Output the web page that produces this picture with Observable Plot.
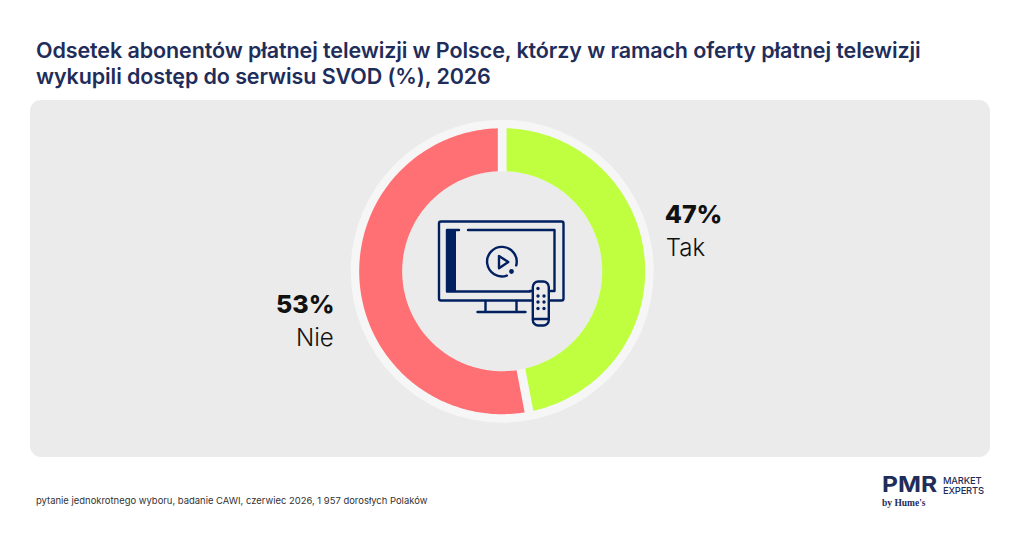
<!DOCTYPE html>
<html lang="pl"><head><meta charset="utf-8">
<script src="https://cdn.jsdelivr.net/npm/d3@7"></script>
<script src="https://cdn.jsdelivr.net/npm/@observablehq/plot@0.6"></script>
<style>
html,body{margin:0;padding:0;background:#fff;width:1024px;height:537px;overflow:hidden;font-family:Inter,sans-serif}
#title{position:absolute;left:36px;top:37px;width:980px;font-size:21.5px;line-height:26px;font-weight:600;color:#1f2d5a;letter-spacing:-.1px;white-space:nowrap}
#panel{position:absolute;left:30px;top:100px;width:960px;height:357px;background:#ebebeb;border-radius:11px;overflow:hidden}
#panel svg{display:block;background:transparent}
#icon{position:absolute;left:430px;top:210px}
#caption{position:absolute;left:36px;top:495px;font-size:9.45px;line-height:12px;color:#333;white-space:nowrap}
#logo{position:absolute;left:882px;top:472px;width:110px;height:40px;color:#1f2d5a}
#logo b{position:absolute;left:0;top:-1px;font-size:22px;line-height:26px;font-weight:700;transform:scaleX(1.12);transform-origin:0 50%}
#logo span{position:absolute;left:61px;top:4px;font-size:9.4px;line-height:10px;font-weight:500;letter-spacing:-.2px}
#logo i{position:absolute;left:0;top:26px;font:700 9.5px/11px "Liberation Serif",serif}
</style></head><body>
<div id="title">Odsetek abonentów płatnej telewizji w Polsce, którzy w ramach oferty płatnej telewizji<br>wykupili dostęp do serwisu SVOD (%), 2026</div>
<div id="panel"></div>
<svg id="icon" width="130" height="125" viewBox="430 210 130 125" style="overflow:visible" fill="none" stroke="#002060" stroke-width="2.4" stroke-linecap="round" stroke-linejoin="round">
<rect x="439" y="221.5" width="124.5" height="79" rx="2"/>
<path d="M447 230H459M468 230H554.5V291H530M447 230V291.5H530"/>
<rect x="447" y="230" width="8.5" height="61.5" fill="#002060" stroke-width="1"/>
<path d="M485.5 301V312M516.5 301V312M477.5 312H525.5"/>
<path d="M516.2 265.4A14.8 14.8 0 1 0 506.8 275.6"/>
<circle cx="511.5" cy="271.5" r="1.2" fill="#002060"/>
<path d="M499 256V268.3L508.3 262Z"/>
<rect x="532.8" y="281.5" width="16" height="44" rx="5.5" fill="#ebebeb"/>
<path d="M533 319H548.5"/>
<g fill="#002060" stroke="none"><circle cx="538" cy="288.5" r="1.7"/><circle cx="538" cy="296" r="1.7"/><circle cx="544" cy="296" r="1.7"/><circle cx="538" cy="302" r="1.7"/><circle cx="544" cy="302" r="1.7"/><circle cx="538" cy="308.5" r="1.7"/><circle cx="544" cy="308.5" r="1.7"/></g>
</svg>
<div id="caption">pytanie jednokrotnego wyboru, badanie CAWI, czerwiec 2026, 1 957 dorosłych Polaków</div>
<div id="logo"><b>PMR</b><span>MARKET<br>EXPERTS</span><i>by Hume's</i></div>
<script>
const categories = ["Tak", "Nie"];
const shares = [47, 53];
const sliceColors = ["#bfff40", "#ff7074"];

const R_OUT = 143, R_IN = 100, R_RING = 151.5, GAP = 4.4;
const total = d3.sum(shares);
let cum = 0;
const slices = categories.map((c, i) => {
  const a0 = cum / total * 2 * Math.PI; cum += shares[i];
  return {c, share: shares[i], a0, a1: cum / total * 2 * Math.PI};
});
const outline = slices.flatMap(s => {
  const arc = (r, rev) => {
    const pad = Math.asin(GAP / r), n = 160;
    return d3.range(n + 1).map(k => {
      const t = (rev ? n - k : k) / n, a = s.a0 + pad + (s.a1 - s.a0 - 2 * pad) * t;
      return {c: s.c, x: r * Math.sin(a), y: -r * Math.cos(a)};
    });
  };
  return [...arc(R_OUT, false), ...arc(R_IN, true)];
});
const labelAt = {Tak: {x1: 162.5, x2: 163.5, y1: -56, y2: -23}, Nie: {x1: -167.7, x2: -168.5, y1: 34, y2: 67}};
const center = [{x: 0, y: 0}];
const labels = slices.map(s => ({...s, ...labelAt[s.c]}));
const labelMarks = (rows, anchor) => [
  Plot.text(rows, {x: "x1", y: "y1", text: d => d.share + "%", textAnchor: anchor, fontSize: 25, fontWeight: 800, fill: "#111"}),
  Plot.text(rows, {x: "x2", y: "y2", text: "c", textAnchor: anchor, fontSize: 24, fontWeight: 300, fill: "#111"})
];

const chart = Plot.plot({
  width: 960, height: 357, margin: 0,
  style: {background: "transparent", fontFamily: "Inter, sans-serif"},
  x: {domain: [-471.7, 488.3], range: [0, 960], axis: null},
  y: {domain: [-170.7, 186.3], range: [0, 357], axis: null},
  color: {domain: categories, range: sliceColors},
  marks: [
    Plot.dot(center, {x: "x", y: "y", r: R_RING, fill: "#f6f6f6", stroke: "none"}),
    Plot.dot(center, {x: "x", y: "y", r: R_IN, fill: "#ebebeb", stroke: "none"}),
    Plot.line(outline, {x: "x", y: "y", z: "c", fill: "c", stroke: "none", curve: "linear"}),
    ...labelMarks(labels.filter(d => d.c === "Tak"), "start"),
    ...labelMarks(labels.filter(d => d.c === "Nie"), "end")
  ]
});
document.getElementById("panel").appendChild(chart);
</script>
</body></html>
